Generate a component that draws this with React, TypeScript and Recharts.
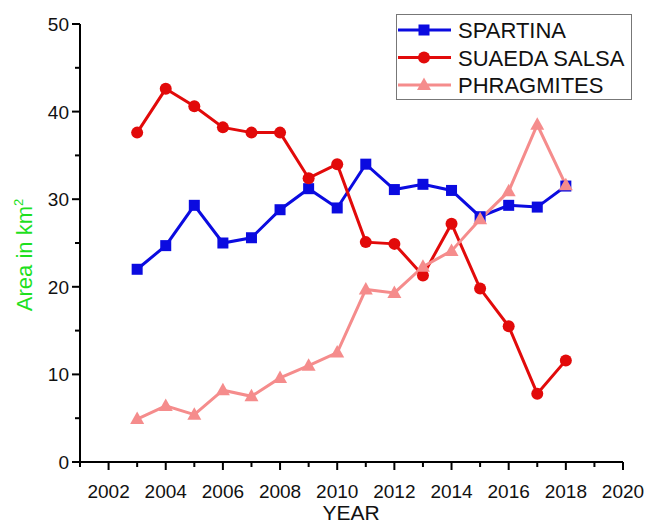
import { Line, LineChart, XAxis, YAxis } from 'recharts';

const years = [2003, 2004, 2005, 2006, 2007, 2008, 2009, 2010, 2011, 2012, 2013, 2014, 2015, 2016, 2017, 2018];
const spartina = [22.0, 24.7, 29.3, 25.0, 25.6, 28.8, 31.2, 29.0, 34.0, 31.1, 31.7, 31.0, 28.0, 29.3, 29.1, 31.5];
const suaedaSalsa = [37.6, 42.6, 40.6, 38.2, 37.6, 37.6, 32.4, 34.0, 25.1, 24.9, 21.3, 27.2, 19.8, 15.5, 7.8, 11.6];
const phragmites = [4.9, 6.4, 5.4, 8.2, 7.5, 9.6, 11.0, 12.5, 19.7, 19.3, 22.3, 24.1, 27.7, 30.9, 38.5, 31.6];

const xTicks = [2001, 2002, 2003, 2004, 2005, 2006, 2007, 2008, 2009, 2010, 2011, 2012, 2013, 2014, 2015, 2016, 2017, 2018, 2019, 2020];
const yTicks = [0, 5, 10, 15, 20, 25, 30, 35, 40, 45, 50];

const BLUE = '#0b0be0';
const RED = '#e20a0a';
const PINK = '#f58c8c';
const FONT = '"Liberation Sans", Arial, sans-serif';

const data = years.map((year, i) => ({
  year,
  spartina: spartina[i],
  suaeda: suaedaSalsa[i],
  phragmites: phragmites[i],
}));

function XTick({ x, y, payload }: any) {
  const major = payload.value % 2 === 0;
  return (
    <g>
      <line x1={x} x2={x} y1={y} y2={y + (major ? 8 : 5)} stroke="#000" strokeWidth={2} />
      {major && (
        <text x={x} y={y + 36} textAnchor="middle" fontSize={19} fontFamily={FONT} fill="#111">
          {payload.value}
        </text>
      )}
    </g>
  );
}

function YTick({ x, y, payload }: any) {
  const major = payload.value % 10 === 0;
  return (
    <g>
      <line x1={x - (major ? 8 : 5)} x2={x} y1={y} y2={y} stroke="#000" strokeWidth={2} />
      {major && (
        <text x={x - 11} y={y + 7} textAnchor="end" fontSize={19} fontFamily={FONT} fill="#111">
          {payload.value}
        </text>
      )}
    </g>
  );
}

function square(color: string) {
  return (p: any) => <rect key={`s-${p.index}`} x={p.cx - 5.5} y={p.cy - 5.5} width={11} height={11} fill={color} />;
}
function circle(color: string) {
  return (p: any) => <circle key={`c-${p.index}`} cx={p.cx} cy={p.cy} r={6} fill={color} />;
}
function triangle(color: string) {
  return (p: any) => (
    <path key={`t-${p.index}`} d={`M${p.cx},${p.cy - 7.5} L${p.cx + 7},${p.cy + 5} L${p.cx - 7},${p.cy + 5} Z`} fill={color} />
  );
}

const legendItems = [
  { name: 'SPARTINA', color: BLUE, shape: 'square' },
  { name: 'SUAEDA SALSA', color: RED, shape: 'circle' },
  { name: 'PHRAGMITES', color: PINK, shape: 'triangle' },
];

function LegendBox() {
  return (
    <div
      style={{
        position: 'absolute',
        left: 396,
        top: 14,
        width: 236,
        height: 86,
        border: '1px solid #777',
        background: '#fff',
        boxSizing: 'border-box',
      }}
    >
      <svg width={234} height={84}>
        {legendItems.map((item, i) => {
          const cy = 15 + i * 27.5;
          return (
            <g key={item.name}>
              <line x1={1} x2={54} y1={cy} y2={cy} stroke={item.color} strokeWidth={3} />
              {item.shape === 'square' && <rect x={21.5} y={cy - 5.5} width={11} height={11} fill={item.color} />}
              {item.shape === 'circle' && <circle cx={27} cy={cy} r={6} fill={item.color} />}
              {item.shape === 'triangle' && (
                <path d={`M27,${cy - 7.5} L34,${cy + 5} L20,${cy + 5} Z`} fill={item.color} />
              )}
              <text x={61} y={cy + 8} fontSize={22} fontFamily={FONT} fill="#111">
                {item.name}
              </text>
            </g>
          );
        })}
      </svg>
    </div>
  );
}

export default function App() {
  return (
    <div style={{ position: 'absolute', left: 0, top: 0, width: 645, height: 527, background: '#fff' }}>
      <LineChart width={645} height={527} data={data} margin={{ top: 24, right: 22, bottom: 0, left: 0 }}>
        <XAxis
          dataKey="year"
          type="number"
          domain={[2001, 2020]}
          ticks={xTicks}
          interval={0}
          height={65}
          tickSize={0}
          tickMargin={0}
          tickLine={false}
          axisLine={{ stroke: '#000', strokeWidth: 2 }}
          tick={<XTick />}
        />
        <YAxis
          type="number"
          domain={[0, 50]}
          ticks={yTicks}
          interval={0}
          width={80}
          tickSize={0}
          tickMargin={0}
          tickLine={false}
          axisLine={{ stroke: '#000', strokeWidth: 2 }}
          tick={<YTick />}
        />
        <Line dataKey="spartina" stroke={BLUE} strokeWidth={3} dot={square(BLUE)} isAnimationActive={false} />
        <Line dataKey="suaeda" stroke={RED} strokeWidth={3} dot={circle(RED)} isAnimationActive={false} />
        <Line dataKey="phragmites" stroke={PINK} strokeWidth={3} dot={triangle(PINK)} isAnimationActive={false} />
        <text x={351} y={520} textAnchor="middle" fontSize={21} fontFamily={FONT} fill="#111">
          YEAR
        </text>
        <text
          x={32}
          y={255}
          transform="rotate(-90, 32, 255)"
          textAnchor="middle"
          fontSize={22}
          fontFamily={FONT}
          fill="#1ee01e"
        >
          Area in km<tspan dy={-9} fontSize={13}>2</tspan>
        </text>
      </LineChart>
      <LegendBox />
    </div>
  );
}
